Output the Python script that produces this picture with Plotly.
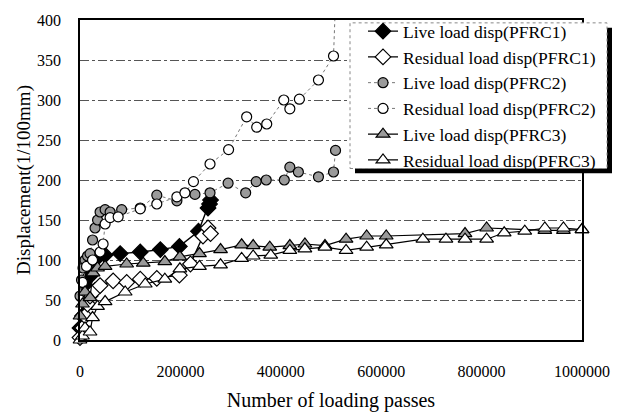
import plotly.graph_objects as go

# ---- data ----
x_live1 = [0, 5000, 10000, 15000, 20000, 30000, 50000, 80000, 120000, 160000, 198000, 236000, 255000, 258000, 260000]
y_live1 = [15, 30, 50, 65, 80, 100, 106, 108, 110, 113, 117, 136, 165, 170, 175]

x_res1 = [0, 5000, 10000, 15000, 20000, 30000, 40000, 66000, 93000, 120000, 153000, 198000, 220000, 245000, 255000, 260000]
y_res1 = [3, 15, 30, 45, 55, 62, 68, 74, 72, 76, 77, 81, 95, 130, 140, 133]

x_live2 = [0, 3000, 6000, 10000, 15000, 20000, 25000, 30000, 35000, 40000, 50000, 60000, 83000, 120000, 153000, 193000, 229000, 259000, 295000, 330000, 351000, 371000, 407000, 418000, 435000, 475000, 505000, 509000]
y_live2 = [55, 75, 90, 100, 105, 108, 125, 140, 150, 160, 163, 160, 163, 165, 181, 174, 182, 184, 196, 184, 198, 200, 200, 216, 210, 204, 210, 237]

x_res2 = [0, 5000, 13000, 25000, 40000, 46000, 50000, 60000, 76000, 120000, 153000, 193000, 209000, 226000, 259000, 296000, 332000, 352000, 372000, 406000, 418000, 437000, 475000, 505000, 510000]
y_res2 = [50, 72, 92, 100, 110, 120, 145, 153, 154, 164, 170, 179, 184, 198, 220, 238, 279, 266, 270, 300, 289, 301, 325, 355, 440]

x_live3 = [0, 5000, 10000, 20000, 26000, 35000, 50000, 93000, 126000, 169000, 199000, 238000, 280000, 322000, 345000, 378000, 418000, 448000, 488000, 530000, 571000, 610000, 767000, 810000, 926000, 963000, 1000000]
y_live3 = [30, 45, 60, 53, 84, 90, 92, 95, 96, 98, 104, 108, 113, 119, 118, 116, 118, 120, 118, 126, 130, 130, 133, 140, 137, 137, 138]

x_res3 = [0, 5000, 10000, 20000, 25000, 35000, 50000, 90000, 130000, 169000, 199000, 238000, 280000, 322000, 345000, 380000, 418000, 448000, 488000, 530000, 571000, 610000, 683000, 729000, 767000, 810000, 845000, 886000, 926000, 963000, 1000000]
y_res3 = [0, 5, 15, 10, 28, 42, 48, 60, 70, 76, 89, 92, 94, 102, 105, 106, 112, 114, 116, 112, 116, 119, 126, 126, 126, 126, 134, 136, 140, 140, 138]

names = ["Live load disp(PFRC1)", "Residual load disp(PFRC1)",
         "Live load disp(PFRC2)", "Residual load disp(PFRC2)",
         "Live load disp(PFRC3)", "Residual load disp(PFRC3)"]

x_ticks = [0, 200000, 400000, 600000, 800000, 1000000]
y_ticks = [0, 50, 100, 150, 200, 250, 300, 350, 400]

FONT = "Liberation Serif, Times New Roman, serif"
GRAY = "#9a9a9a"

fig = go.Figure()

def add(x, y, name, symbol, fill, size, dash, lcolor, lwidth, clip=False):
    fig.add_trace(go.Scatter(
        x=x, y=y, name=name, mode="lines+markers", cliponaxis=clip,
        line=dict(color=lcolor, width=lwidth, dash=dash),
        marker=dict(symbol=symbol, size=size, color=fill,
                    line=dict(color="black", width=1.2))))

add(x_live1, y_live1, names[0], "diamond", "black", 12, "solid", "black", 1.4)
add(x_res1, y_res1, names[1], "diamond", "white", 12, "solid", "black", 1.4)
add(x_live2, y_live2, names[2], "circle", GRAY, 10, "dot", "#777777", 1.0)
add(x_res2, y_res2, names[3], "circle", "white", 10, "dot", "#777777", 1.0, clip=True)
add(x_live3, y_live3, names[4], "triangle-up", GRAY, 12, "solid", "black", 1.2)
add(x_res3, y_res3, names[5], "triangle-up", "white", 12, "solid", "black", 1.2)

L, R, T, B = 80, 582, 16, 350
W, H = 624, 420

def px(xp):
    return (xp - L) / (R - L)

def py(yp):
    return (B - yp) / (B - T)

shapes = [
    dict(type="rect", xref="paper", yref="paper", layer="above",
         x0=px(355), x1=px(612), y0=py(176), y1=py(24),
         fillcolor="black", line=dict(width=0)),
    dict(type="rect", xref="paper", yref="paper", layer="above",
         x0=px(350), x1=px(607), y0=py(171), y1=py(19),
         fillcolor="white", line=dict(color="#888888", width=1, dash="dot")),
]

fig.update_layout(
    width=W, height=H,
    margin=dict(l=L, r=W - R, t=T, b=H - B),
    paper_bgcolor="white", plot_bgcolor="white",
    font=dict(family=FONT, size=16, color="black"),
    showlegend=True,
    legend=dict(x=px(363), y=py(9), xanchor="left", yanchor="top",
                bgcolor="rgba(0,0,0,0)", borderwidth=0,
                font=dict(family=FONT, size=17.5, color="black"),
                tracegroupgap=0),
    shapes=shapes,
    xaxis=dict(range=[0, 1000000], tickvals=x_ticks,
               ticktext=[str(v) for v in x_ticks],
               showgrid=False, zeroline=False,
               showline=True, linecolor="black", linewidth=1.5, mirror=True,
               ticks="", ticklabelstandoff=16, tickfont=dict(size=16, family=FONT),
               title=dict(text="Number of loading passes",
                          font=dict(size=20, family=FONT), standoff=14)),
    yaxis=dict(range=[0, 400], tickvals=y_ticks,
               showgrid=True, gridcolor="#555555", gridwidth=1, griddash="dashdot",
               zeroline=False,
               showline=True, linecolor="black", linewidth=1.5, mirror=True,
               ticks="", ticklabelstandoff=14, tickfont=dict(size=16, family=FONT),
               title=dict(text="Displacement(1/100mm)",
                          font=dict(size=19, family=FONT), standoff=1)),
)

fig.write_html("out.html", config={"displayModeBar": False},
               post_script="document.body.style.margin='0px';document.body.style.padding='0px';")
